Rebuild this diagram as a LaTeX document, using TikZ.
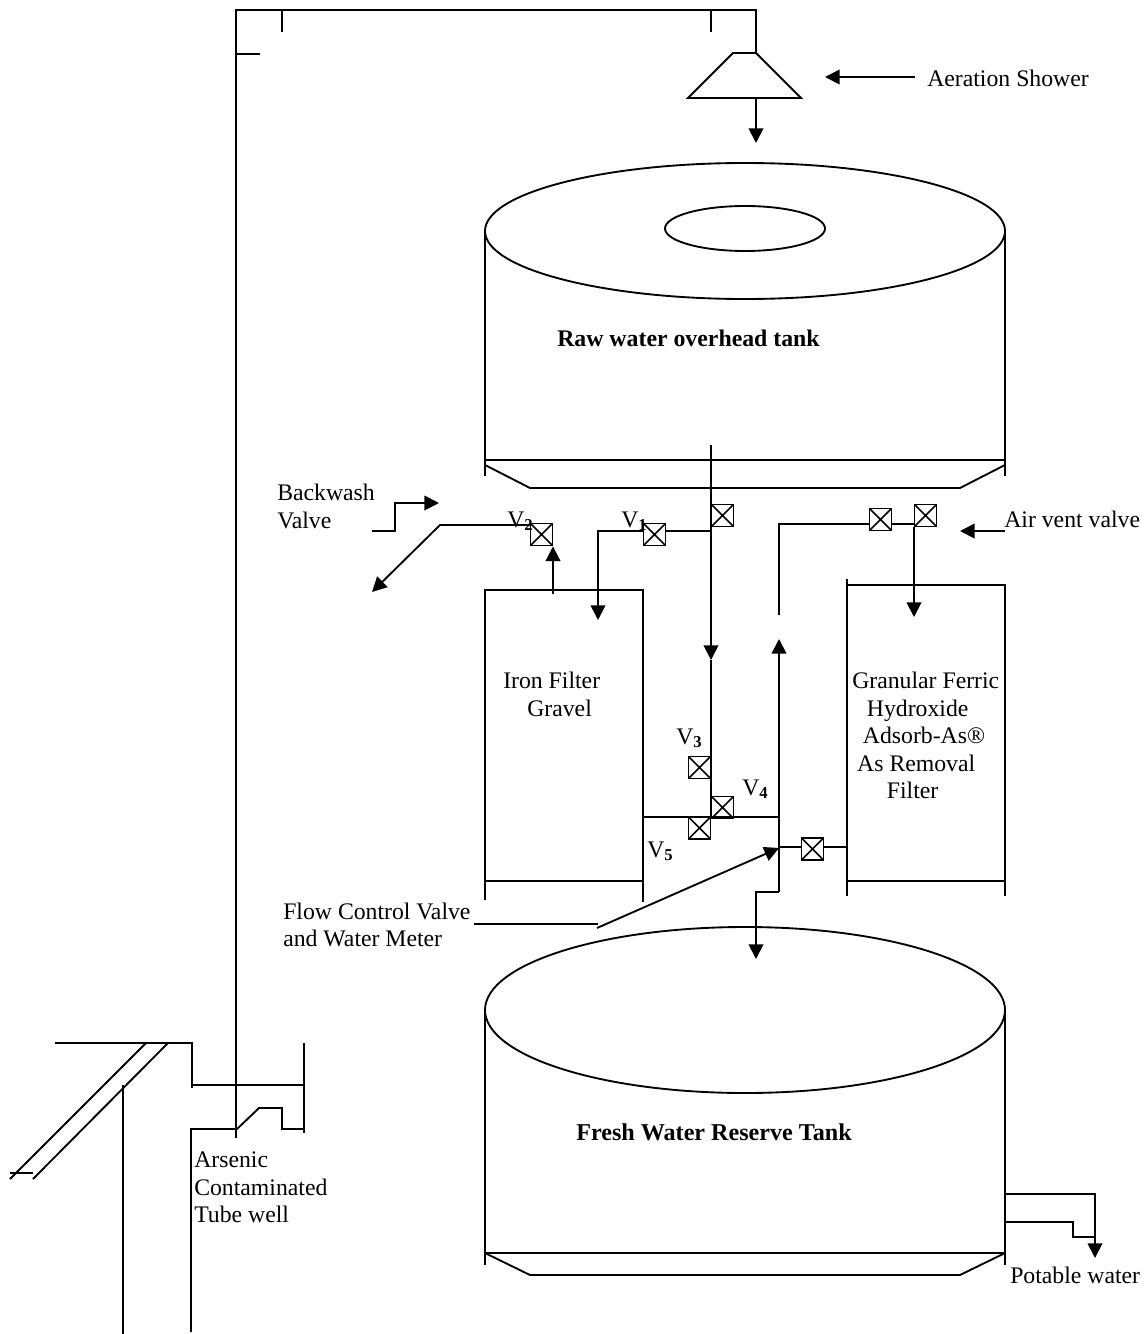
\documentclass[tikz,border=0pt]{standalone}
\usepackage{fontspec}
\setmainfont{Liberation Serif}
\usetikzlibrary{arrows.meta}

\begin{document}
\begin{tikzpicture}[
    x=0.75pt, y=-0.75pt,
    pipe/.style     = {line width=1.4pt},
    flow/.style     = {pipe, -{Triangle[length=11pt, width=11pt]}},
    valve/.style    = {draw, pipe, fill=white, minimum size=16.5pt, inner sep=0pt,
                       path picture={\draw[line width=1.1pt] (path picture bounding box.north west) -- (path picture bounding box.south east)
                                     (path picture bounding box.north east) -- (path picture bounding box.south west);}},
    etiqueta/.style = {font=\fontsize{17.8}{20.6}\selectfont, inner sep=0pt, anchor=base west},
    bloque/.style   = {font=\fontsize{17.8}{20.6}\selectfont, inner sep=0pt, anchor=north west, align=left},
    tanque/.style   = {font=\fontsize{18.1}{20.6}\selectfont\bfseries, inner sep=0pt, anchor=base west},
]
\useasboundingbox (0,0) rectangle (1144,1334);

% Tubo de subida y ducha
\coordinate (wellTop) at (236,1138);
\coordinate (riserTop) at (236,10);
\coordinate (showerIn) at (756,10);
\coordinate (showerTop) at (756,53);
\coordinate (showerOut) at (756,98);
\coordinate (showerDrop) at (756,143);
\draw[pipe] (wellTop) -- (riserTop) -- (showerIn) -- (showerTop);
\draw[pipe] (282,10) -- (282,32);
\draw[pipe] (711,10) -- (711,32);
\draw[pipe] (236,54) -- (260,54);
\draw[pipe] (showerTop) -- (733,53) -- (688,98) -- (801,98) -- (showerTop);
\draw[flow] (showerOut) -- (showerDrop);

% Tanque elevado
\draw[pipe] (745,231) ellipse [x radius=260, y radius=68];
\draw[pipe] (745,228.5) ellipse [x radius=80, y radius=22.5];
\draw[pipe] (485,231) -- (485,476);
\draw[pipe] (1005,231) -- (1005,476);
\draw[pipe] (485,460) -- (1005,460);
\draw[pipe] (485,465) -- (530,488) -- (960,488) -- (1005,465);

% Filtros
\draw[pipe] (485,900) -- (485,590) -- (643,590) -- (643,902);
\draw[pipe] (485,881) -- (643,881);
\draw[pipe] (847,579) -- (847,896);
\draw[pipe] (847,585) -- (1005,585) -- (1005,896);
\draw[pipe] (847,881) -- (1005,881);

% Tanque de reserva
\draw[pipe] (745,1010) ellipse [x radius=260, y radius=83];
\draw[pipe] (485,1010) -- (485,1265);
\draw[pipe] (1005,1010) -- (1005,1265);
\draw[pipe] (485,1253) -- (1005,1253);
\draw[pipe] (485,1253) -- (530,1275) -- (960,1275) -- (1005,1253);

% Valvulas
\node[valve] (v2) at (541.5,534.5) {};
\node[valve] (v1) at (654.5,534.5) {};
\node[valve] (v0) at (722.5,515.5) {};
\node[valve] (v6) at (880.5,519.5) {};
\node[valve] (v7) at (925.5,515.5) {};
\node[valve] (v3) at (699.5,767.5) {};
\node[valve] (v4) at (722.5,807.5) {};
\node[valve] (v5) at (699.5,828) {};
\node[valve] (v8) at (812.5,849) {};

% Entrada desde el tanque
\coordinate (feedTop) at (711,445);
\coordinate (feedMid) at (711,660);
\coordinate (feedJoin) at (711,531);
\coordinate (feedLow) at (711,817);
\draw[flow] (feedTop) -- (feedMid);
\draw[pipe] (feedMid) -- (feedLow);
\draw[pipe] (feedJoin) -- (v1.east |- feedJoin);
\coordinate (ironIn) at (598,620);
\draw[flow] (v1.west |- feedJoin) -| (ironIn);

% Retrolavado
\coordinate (ironUp) at (553,594);
\coordinate (wasteBend) at (440,525);
\coordinate (wasteEnd) at (372,592);
\draw[flow] (ironUp) -- (ironUp |- v2.south);
\draw[flow] (v2.west |- wasteBend) -- (wasteBend) -- (wasteEnd);
\coordinate (washFrom) at (372,531);
\coordinate (washTo) at (439,503);
\draw[flow] (washFrom) -- (395,531) |- (washTo);

% Salida del filtro de hierro y columna central
\coordinate (ironOut) at (643,817);
\coordinate (riserJoin) at (779,817);
\coordinate (riserHead) at (779,639);
\coordinate (riserLow) at (779,892);
\coordinate (reserveIn) at (756,959);
\draw[pipe] (ironOut) -- (riserJoin);
\draw[flow] (riserLow) -- (riserHead);
\draw[flow] (riserLow) -| (reserveIn);
\draw[pipe] (v8.west |- 779,847) -- (779,847);
\draw[pipe] (v8.east |- 779,847) -- (847,847);

% Ventilacion y filtro de hidroxido
\coordinate (ventEnd) at (779,615);
\coordinate (ventJoin) at (914,524);
\coordinate (ferricIn) at (914,617);
\draw[pipe] (ventEnd) |- (v6.west |- ventJoin);
\draw[pipe] (v6.east |- ventJoin) -- (ventJoin);
\draw[flow] (v7.south -| ventJoin) -- (ferricIn);

% Flechas de las etiquetas
\coordinate (airFrom) at (1005,531);
\coordinate (airTo) at (960,531);
\draw[flow] (airFrom) -- (airTo);
\coordinate (showerFrom) at (915,77);
\coordinate (showerTo) at (825,77);
\draw[flow] (showerFrom) -- (showerTo);
\coordinate (meterFrom) at (474,924);
\coordinate (meterMid) at (598,924);
\coordinate (meterFoot) at (597,928);
\coordinate (meterTo) at (779,848);
\draw[pipe] (meterFrom) -- (meterMid);
\draw[flow] (meterFoot) -- (meterTo);

% Salida de agua potable
\coordinate (potOut) at (1095,1258);
\draw[flow] (1005,1194) -| (potOut);
\draw[pipe] (1005,1222) -- (1073,1222) |- (1095,1237);

% Pozo
\coordinate (wellLeft) at (191,1332);
\coordinate (wellRight) at (304,1133);
\draw[pipe] (55,1043) -- (192,1043) -- (192,1088);
\draw[pipe] (192,1085) -- (304,1085);
\draw[pipe] (304,1043) -- (wellRight);
\draw[pipe] (wellLeft) |- (237,1129) -- (259,1108) -| (282,1129) -- (304,1129);
\draw[pipe] (146,1043) -- (10,1179);
\draw[pipe] (168,1043) -- (33,1179);
\draw[pipe] (10,1173) -- (33,1173);
\draw[pipe] (123,1085) -- (123,1334);

% Etiquetas
\node[tanque, font=\fontsize{17.85}{20.6}\selectfont\bfseries] (rawlabel) at (557,346) {Raw water overhead tank};
\node[tanque] (freshlabel) at (576,1140) {Fresh Water Reserve Tank};
\node[etiqueta] (aerlabel) at (927,87) {Aeration Shower};
\node[bloque] (washlabel) at (277,484) {Backwash\\Valve};
\node[etiqueta] (airlabel) at (1004,527) {Air vent valve};
\node[bloque] (ironlabel) at (503,672) {Iron Filter\\\hspace*{18pt}Gravel};
\node[bloque] (ferriclabel) at (852,672) {Granular Ferric\\\hspace*{11pt}Hydroxide\\\hspace*{8pt}Adsorb-As®\\\hspace*{3.7pt}As Removal\\\hspace*{26pt}Filter};
\node[bloque] (meterlabel) at (283,902.5) {Flow Control Valve\\and Water Meter};
\node[bloque] (welllabel) at (194,1152) {Arsenic\\Contaminated\\Tube well};
\node[etiqueta] (potlabel) at (1010,1283) {Potable water};
\node[etiqueta] (t1) at (621,527) {V\textsubscript{\bfseries 1}};
\node[etiqueta] (t2) at (507,527) {V\textsubscript{\bfseries 2}};
\node[etiqueta] (t3) at (676,744) {V\textsubscript{\bfseries 3}};
\node[etiqueta] (t4) at (742,795) {V\textsubscript{\bfseries 4}};
\node[etiqueta] (t5) at (647,857) {V\textsubscript{\bfseries 5}};

\end{tikzpicture}
\end{document}
